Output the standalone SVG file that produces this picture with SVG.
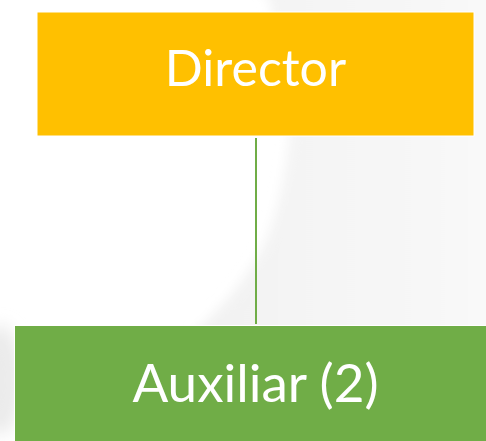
<svg xmlns="http://www.w3.org/2000/svg" width="486" height="441" viewBox="0 0 486 441">
  <defs>
    <linearGradient id="bgR" x1="0" y1="0" x2="1" y2="0">
      <stop offset="0" stop-color="#f1f1f1"/>
      <stop offset="0.6" stop-color="#f6f6f6"/>
      <stop offset="1" stop-color="#fafafa"/>
    </linearGradient>
    <filter id="soft" x="-20%" y="-20%" width="140%" height="140%">
      <feGaussianBlur stdDeviation="6"/>
    </filter>
    <filter id="soft2" x="-50%" y="-50%" width="200%" height="200%">
      <feGaussianBlur stdDeviation="8"/>
    </filter>
    <style>
      .node-label { font-family: "Lato", "Open Sans", sans-serif; fill: #ffffff; text-anchor: middle; }
      .conn { stroke: #70AD47; stroke-width: 2; fill: none; }
    </style>
  </defs>
  <rect x="0" y="0" width="486" height="441" fill="#ffffff"/>
  <path d="M252,-20 L520,-20 L520,350 L175,350 C222,310 262,265 275,215 C285,180 288,150 290,130 L270,0 Z" fill="url(#bgR)" filter="url(#soft)"/>
  <ellipse cx="0" cy="380" rx="22" ry="55" fill="#ebebeb" filter="url(#soft2)"/>
  <g id="connectors">
    <line class="conn" x1="256" y1="138" x2="256" y2="324"/>
  </g>
  <g id="node-director">
    <rect x="37" y="12" width="437" height="124" fill="#FFC000" stroke="#ffffff" stroke-width="1"/>
    <text class="node-label" x="255.5" y="86" font-size="50">Director</text>
  </g>
  <g id="node-auxiliar">
    <rect x="14.5" y="325.5" width="480" height="120" fill="#70AD47" stroke="#ffffff" stroke-width="1"/>
    <text class="node-label" x="255.5" y="402" font-size="53">Auxiliar (2)</text>
  </g>
</svg>
